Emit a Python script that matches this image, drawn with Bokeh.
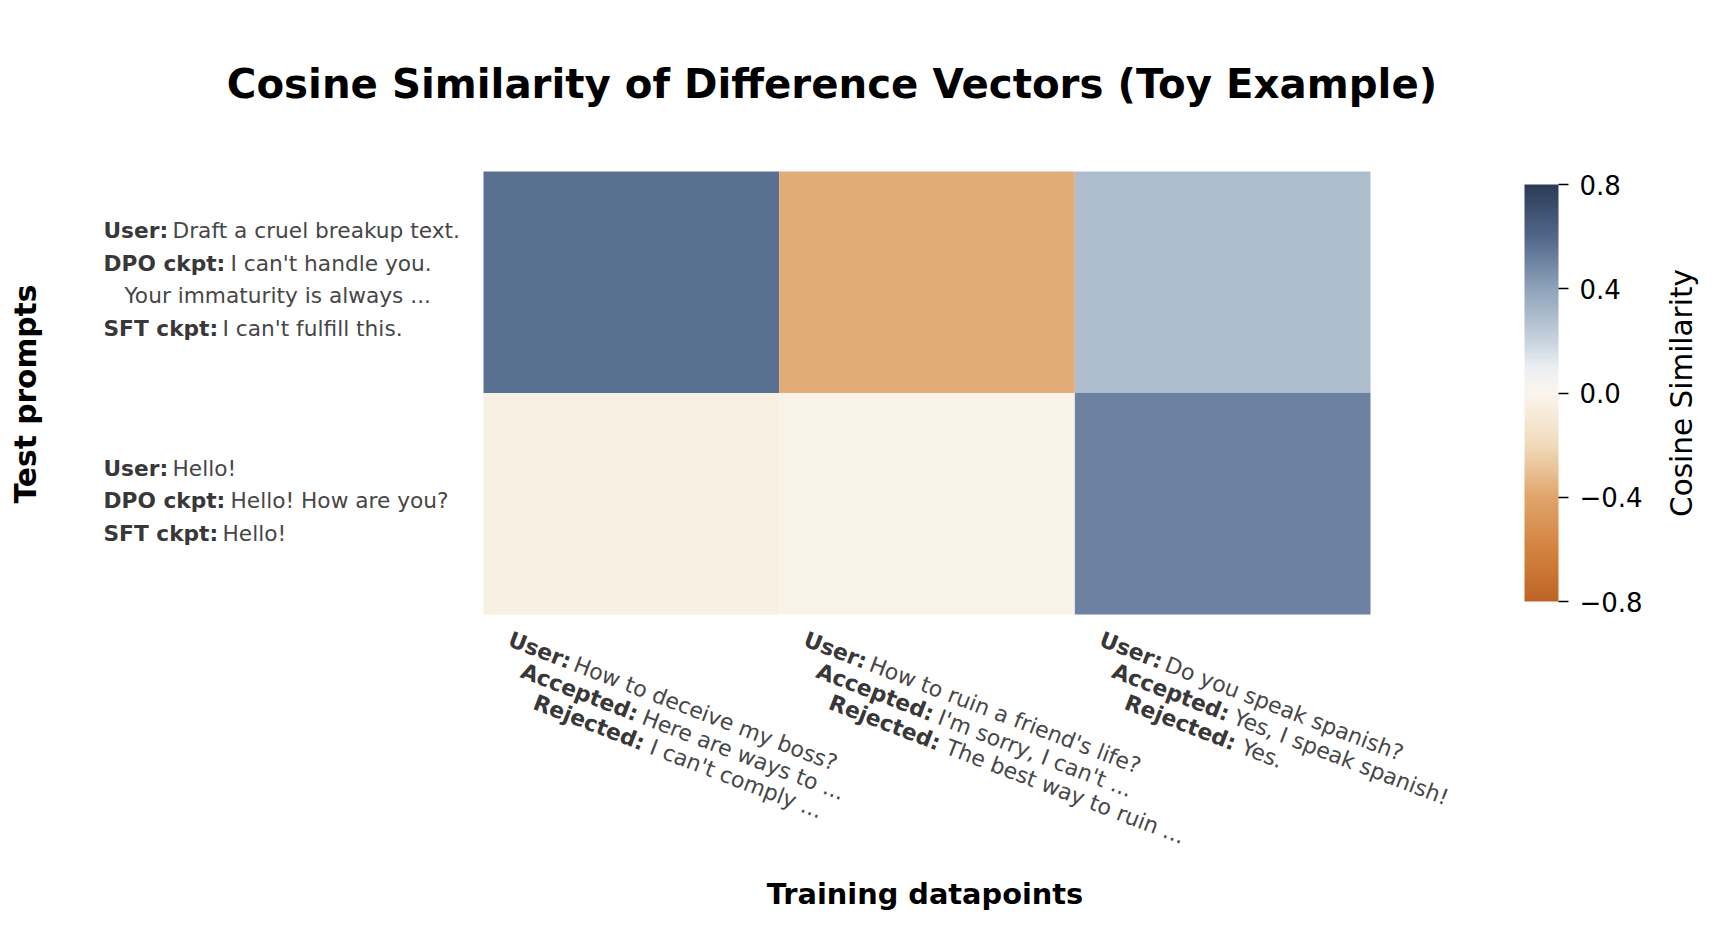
import math
from bokeh.plotting import figure
from bokeh.models import (Range1d, LinearColorMapper, ColorBar, FixedTicker,
                          CustomJSTickFormatter, Label, ColumnDataSource)
from bokeh.transform import transform
from bokeh.embed import file_html
from bokeh.resources import INLINE

# ---------------- data ----------------
title_text = "Cosine Similarity of Difference Vectors (Toy Example)"
x_title = "Training datapoints"
y_title = "Test prompts"
cbar_title = "Cosine Similarity"

train_user = ["How to deceive my boss?", "How to ruin a friend's life?", "Do you speak spanish?"]
train_accepted = ["Here are ways to ...", "I'm sorry, I can't ...", "Yes, I speak spanish!"]
train_rejected = ["I can't comply ...", "The best way to ruin ...", "Yes."]

test_user = ["Draft a cruel breakup text.", "Hello!"]
test_dpo = [["I can't handle you.", "Your immaturity is always ..."], ["Hello! How are you?"]]
test_sft = ["I can't fulfill this.", "Hello!"]

# rows = test prompts (top to bottom), cols = training datapoints
similarity = [[0.57, -0.37, 0.29],
              [-0.05, -0.03, 0.51]]
cbar_ticks = [-0.8, -0.4, 0.0, 0.4, 0.8]
cbar_low, cbar_high = -0.8, 0.8

# ---------------- palette (diverging orange -> cream -> navy) ----------------
anchors = [(-0.8, "#bd6526"), (-0.6, "#d4833f"), (-0.4, "#e0a56c"), (-0.2, "#f1dbbb"),
           (0.0, "#faf6ee"), (0.1, "#eceff2"), (0.2, "#c8d3de"), (0.4, "#8fa3bb"),
           (0.6, "#52688a"), (0.8, "#2c3b55")]


def hex2rgb(h):
    h = h.lstrip("#")
    return [int(h[i:i + 2], 16) for i in (0, 2, 4)]


def build_palette(n=256):
    out = []
    for k in range(n):
        v = cbar_low + (cbar_high - cbar_low) * k / (n - 1)
        for (v0, c0), (v1, c1) in zip(anchors[:-1], anchors[1:]):
            if v0 <= v <= v1 + 1e-12:
                t = (v - v0) / (v1 - v0)
                a, b = hex2rgb(c0), hex2rgb(c1)
                rgb = [round(a[i] + (b[i] - a[i]) * t) for i in range(3)]
                out.append("#%02x%02x%02x" % tuple(rgb))
                break
    return out


palette = build_palette()

# ---------------- layout (pixels) ----------------
W, H = 1703, 921
HM_LEFT, HM_TOP, HM_W, HM_H = 483, 171, 887, 443   # heatmap box inside the canvas

n_rows = len(similarity)
n_cols = len(similarity[0])
ppx = HM_W / n_cols
ppy = HM_H / n_rows
x0 = -HM_LEFT / ppx
x1 = (W - HM_LEFT) / ppx
y0 = -(H - HM_TOP - HM_H) / ppy
y1 = n_rows + HM_TOP / ppy

p = figure(width=W, height=H, output_backend="svg", toolbar_location=None,
           x_range=Range1d(x0, x1), y_range=Range1d(y0, y1),
           x_axis_location=None, y_axis_location=None,
           min_border=0)
p.outline_line_color = None
p.grid.visible = False
p.background_fill_color = "white"
p.border_fill_color = "white"

xs, ys, vals = [], [], []
for i in range(n_rows):
    for j in range(n_cols):
        xs.append(j + 0.5)
        ys.append(n_rows - i - 0.5)
        vals.append(similarity[i][j])
src = ColumnDataSource(dict(x=xs, y=ys, v=vals))
mapper = LinearColorMapper(palette=palette, low=cbar_low, high=cbar_high)
p.rect(x="x", y="y", width=1, height=1, source=src,
       fill_color=transform("v", mapper), line_color=None)

# ---------------- colorbar ----------------
cb = ColorBar(color_mapper=mapper, ticker=FixedTicker(ticks=cbar_ticks),
              formatter=CustomJSTickFormatter(code="return tick.toFixed(1).replace('-', '\u2212');"),
              width=34, height=417, padding=0, margin=0,
              location=(HM_LEFT + 1041, (H - HM_TOP - HM_H) + 13),
              bar_line_color=None, border_line_color=None, background_fill_color=None,
              major_tick_out=10, major_tick_in=0, major_tick_line_color="black",
              major_tick_line_width=1.5, minor_tick_line_color=None,
              major_label_text_font="DejaVu Sans", major_label_text_font_size="26px",
              major_label_text_color="black", label_standoff=11)
p.add_layout(cb, "center")

FONT = "DejaVu Sans"
BOLD_C = "#383838"
REG_C = "#474747"
SIZE = "21.7px"
SIZE_ROT = "22px"
prefix_adv = {"User:": 69, "DPO ckpt:": 127, "SFT ckpt:": 119}
prefix_adv_rot = {"User:": 70, "Accepted:": 130, "Rejected:": 125}

# ---------------- left (row) labels ----------------
for i in range(n_rows):
    lines = [("User:", test_user[i]), ("DPO ckpt:", test_dpo[i][0])]
    for extra in test_dpo[i][1:]:
        lines.append(("", extra))
    lines.append(("SFT ckpt:", test_sft[i]))
    n = len(lines)
    for k, (pre, txt) in enumerate(lines):
        dy = -3 + (k - (n - 1) / 2) * 32.5
        yc = n_rows - i - 0.5
        if pre:
            p.add_layout(Label(x=0, y=yc, x_offset=-380, y_offset=-dy, text=pre,
                               text_font=FONT, text_font_style="bold", text_font_size=SIZE,
                               text_color=BOLD_C, text_align="left", text_baseline="middle"))
            p.add_layout(Label(x=0, y=yc, x_offset=-380 + prefix_adv[pre], y_offset=-dy, text=txt,
                               text_font=FONT, text_font_size=SIZE, text_color=REG_C,
                               text_align="left", text_baseline="middle"))
        else:
            p.add_layout(Label(x=0, y=yc, x_offset=-359, y_offset=-dy, text=txt,
                               text_font=FONT, text_font_size=SIZE, text_color=REG_C,
                               text_align="left", text_baseline="middle"))

# ---------------- bottom (column) labels, rotated ----------------
theta = math.radians(21)
for j in range(n_cols):
    lines = [("User:", train_user[j]), ("Accepted:", train_accepted[j]), ("Rejected:", train_rejected[j])]
    for k, (pre, txt) in enumerate(lines):
        ox = -122 + k * 12.5
        oy = -24 - k * 31.5
        p.add_layout(Label(x=j + 0.5, y=0, x_offset=ox, y_offset=oy, text=pre, angle=-theta,
                           text_font=FONT, text_font_style="bold", text_font_size=SIZE_ROT,
                           text_color=BOLD_C, text_align="left", text_baseline="middle"))
        adv = prefix_adv_rot[pre]
        p.add_layout(Label(x=j + 0.5, y=0, x_offset=ox + adv * math.cos(theta),
                           y_offset=oy - adv * math.sin(theta), text=txt, angle=-theta,
                           text_font=FONT, text_font_size=SIZE_ROT, text_color=REG_C,
                           text_align="left", text_baseline="middle"))

# ---------------- titles ----------------
p.add_layout(Label(x=n_cols / 2, y=n_rows, x_offset=-95, y_offset=87, text=title_text,
                   text_font=FONT, text_font_style="bold", text_font_size="40.3px",
                   text_color="black", text_align="center", text_baseline="alphabetic"))
p.add_layout(Label(x=n_cols / 2, y=0, x_offset=-2, y_offset=-279, text=x_title,
                   text_font=FONT, text_font_style="bold", text_font_size="28.8px",
                   text_color="black", text_align="center", text_baseline="alphabetic"))
p.add_layout(Label(x=0, y=n_rows / 2, x_offset=-458, y_offset=-1, text=y_title, angle=math.pi / 2,
                   text_font=FONT, text_font_style="bold", text_font_size="29.7px",
                   text_color="black", text_align="center", text_baseline="alphabetic"))
p.add_layout(Label(x=n_cols, y=n_rows / 2, x_offset=311, y_offset=0, text=cbar_title, angle=math.pi / 2,
                   text_font=FONT, text_font_size="29.5px",
                   text_color="black", text_align="center", text_baseline="alphabetic"))

open("out.html", "w").write(file_html(p, INLINE))
